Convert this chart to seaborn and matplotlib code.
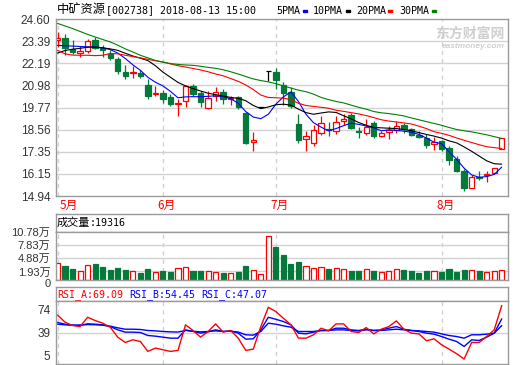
import numpy as np
import matplotlib
matplotlib.use("Agg")
import matplotlib.pyplot as plt
from matplotlib.transforms import ScaledTranslation
import seaborn as sns

sns.set_style("white")
plt.rcParams['font.family'] = ['Liberation Sans', 'Noto Sans CJK SC']

# daily candles, 2018-05 .. 2018-08-13
OPEN = [23.45, 23.54, 22.99, 22.77, 22.84, 23.43, 23.00, 22.69, 22.39, 21.72,
        21.64, 21.66, 21.00, 20.50, 20.56, 20.36, 19.96, 20.15, 20.95, 20.56,
        19.77, 20.39, 20.61, 20.26, 20.36, 19.46, 17.86, 19.82, 21.76, 21.72,
        20.99, 20.63, 18.88, 18.07, 17.84, 18.39, 18.61, 18.48, 19.03, 19.34,
        18.48, 18.39, 18.94, 18.24, 18.46, 18.55, 18.79, 18.57, 18.26, 18.08,
        17.80, 17.93, 17.56, 16.97, 16.28, 15.39, 15.98, 16.06, 16.18, 17.53]
HIGH = [23.87, 23.77, 23.48, 23.10, 23.53, 23.62, 23.17, 22.89, 22.52, 22.08,
        22.01, 21.79, 21.33, 20.92, 20.72, 20.50, 20.26, 21.00, 21.05, 20.65,
        20.65, 20.87, 20.78, 20.41, 20.41, 19.50, 18.41, 19.82, 21.76, 21.92,
        21.14, 20.91, 19.44, 18.48, 18.79, 19.31, 18.98, 19.31, 19.40, 19.49,
        18.70, 19.12, 19.03, 18.48, 18.76, 19.03, 18.94, 18.66, 18.48, 18.30,
        18.15, 18.02, 17.65, 17.10, 16.42, 16.09, 16.33, 16.28, 16.46, 18.10]
LOW = [23.08, 22.62, 22.67, 22.55, 22.76, 22.98, 22.50, 22.36, 21.61, 21.30,
       21.40, 21.38, 20.25, 20.39, 20.02, 19.86, 19.30, 19.78, 20.41, 19.80,
       19.67, 20.13, 19.95, 19.91, 19.67, 17.80, 17.38, 19.82, 21.20, 20.78,
       19.91, 19.77, 17.84, 17.38, 17.69, 18.26, 18.20, 18.35, 18.79, 18.57,
       18.11, 18.26, 18.11, 18.15, 18.06, 18.39, 18.39, 18.20, 18.08, 17.56,
       17.47, 17.38, 16.64, 16.24, 15.23, 15.36, 15.82, 15.69, 16.13, 17.53]
CLOSE = [23.58, 23.02, 22.80, 22.86, 23.39, 23.02, 22.92, 22.45, 21.74, 21.50,
         21.70, 21.48, 20.41, 20.55, 20.23, 19.97, 19.99, 20.92, 20.51, 20.05,
         20.28, 20.59, 20.21, 20.31, 19.79, 17.83, 18.02, 19.82, 21.76, 21.28,
         20.56, 19.86, 18.02, 18.20, 18.52, 18.90, 18.52, 18.99, 19.12, 18.66,
         18.43, 18.72, 18.20, 18.39, 18.52, 18.76, 18.57, 18.26, 18.17, 17.75,
         17.87, 17.51, 16.92, 16.31, 15.39, 16.00, 15.91, 16.13, 16.46, 18.08]

MA5 = [23.16, 23.14, 23.12, 23.10, 23.08, 23.07, 23.02, 22.93, 22.74, 22.45,
       22.10, 21.80, 21.42, 21.15, 20.95, 20.65, 20.30, 20.35, 20.36, 20.36,
       20.38, 20.41, 20.36, 20.25, 20.00, 19.55, 19.25, 19.16, 19.40, 19.95,
       20.35, 20.62, 20.10, 19.40, 18.94, 18.70, 18.50, 18.62, 18.78, 18.92,
       18.85, 18.76, 18.66, 18.50, 18.55, 18.52, 18.48, 18.42, 18.30, 18.10,
       17.88, 17.80, 17.35, 16.95, 16.46, 16.09, 15.96, 16.00, 16.12, 16.52]
MA10 = [22.74, 22.88, 22.95, 23.00, 23.06, 23.07, 23.03, 22.97, 22.89, 22.73,
        22.58, 22.46, 22.33, 22.05, 21.70, 21.42, 21.14, 20.95, 20.80, 20.67,
        20.55, 20.47, 20.40, 20.32, 20.27, 20.14, 19.88, 19.71, 19.80, 19.92,
        19.95, 19.90, 19.68, 19.49, 19.40, 19.47, 19.53, 19.50, 19.32, 19.15,
        18.95, 18.80, 18.68, 18.66, 18.64, 18.62, 18.57, 18.50, 18.40, 18.30,
        18.21, 18.10, 17.95, 17.84, 17.62, 17.38, 17.12, 16.86, 16.70, 16.68]
MA20 = [22.89, 22.70, 22.63, 22.62, 22.62, 22.60, 22.62, 22.72, 22.70, 22.62,
        22.55, 22.48, 22.40, 22.32, 22.26, 22.15, 22.05, 21.98, 21.90, 21.82,
        21.72, 21.60, 21.50, 21.35, 21.20, 21.00, 20.75, 20.45, 20.32, 20.30,
        20.28, 20.20, 20.00, 19.88, 19.83, 19.78, 19.73, 19.62, 19.56, 19.49,
        19.42, 19.33, 19.22, 19.10, 19.03, 18.98, 18.93, 18.87, 18.75, 18.62,
        18.45, 18.36, 18.25, 18.11, 17.98, 17.86, 17.74, 17.63, 17.58, 17.53]
MA30 = [24.36, 24.22, 24.08, 23.92, 23.76, 23.62, 23.48, 23.35, 23.17, 22.97,
        22.80, 22.62, 22.48, 22.34, 22.24, 22.17, 22.12, 22.09, 22.07, 22.02,
        21.96, 21.91, 21.83, 21.72, 21.60, 21.46, 21.33, 21.24, 21.17, 21.07,
        20.95, 20.83, 20.72, 20.63, 20.50, 20.32, 20.20, 20.10, 20.02, 19.90,
        19.78, 19.68, 19.55, 19.48, 19.44, 19.38, 19.31, 19.20, 19.10, 19.00,
        18.90, 18.80, 18.68, 18.57, 18.50, 18.44, 18.36, 18.28, 18.18, 18.08]

# volume, in 10k lots
VOLUME = [3.80, 3.19, 2.50, 2.05, 3.34, 3.64, 2.96, 2.28, 2.73, 2.28,
          2.05, 1.59, 2.50, 1.82, 2.13, 1.90, 2.66, 2.88, 2.13, 2.13,
          2.05, 1.90, 1.67, 1.67, 1.90, 3.19, 2.28, 1.37, 9.80, 7.36,
          5.69, 3.64, 3.95, 3.11, 2.66, 2.88, 2.50, 2.66, 2.43, 2.13,
          2.13, 2.43, 2.13, 1.75, 2.05, 2.43, 2.28, 2.05, 1.59, 2.05,
          2.05, 1.82, 2.50, 1.82, 2.28, 2.28, 2.05, 1.75, 2.05, 2.30]

RSI_A = [58.7, 50.8, 47.1, 46.0, 56.2, 52.6, 49.7, 45.3, 34.4, 28.6,
         31.5, 29.7, 18.8, 22.4, 20.6, 18.8, 19.9, 47.9, 41.7, 34.4,
         40.6, 48.9, 39.9, 41.7, 33.3, 19.9, 21.3, 46.0, 67.1, 62.4,
         55.1, 47.9, 33.3, 33.3, 37.0, 44.2, 41.3, 48.9, 48.9, 40.6,
         39.5, 44.9, 38.0, 43.1, 46.0, 52.2, 43.1, 38.8, 38.0, 30.4,
         32.6, 26.1, 21.3, 16.3, 10.4, 28.6, 28.6, 35.1, 42.4, 69.09]
RSI_B = [50.5, 48.6, 47.5, 47.5, 49.0, 48.6, 47.9, 46.0, 42.4, 39.9,
         39.9, 39.5, 36.2, 35.5, 34.4, 33.3, 33.3, 42.4, 40.6, 38.8,
         40.2, 42.4, 40.6, 41.3, 38.8, 32.2, 32.6, 42.4, 56.2, 54.0,
         51.5, 47.9, 38.8, 38.0, 39.9, 41.7, 41.7, 44.2, 44.2, 42.4,
         41.7, 43.1, 41.7, 42.4, 44.2, 46.0, 43.1, 41.7, 40.6, 38.8,
         37.7, 35.1, 32.2, 29.7, 24.2, 31.5, 30.8, 34.4, 38.8, 54.45]
RSI_C = [48.6, 47.9, 47.5, 47.5, 48.2, 48.0, 47.5, 46.4, 44.6, 43.1,
         43.1, 42.8, 41.7, 41.3, 40.6, 40.2, 40.0, 41.7, 40.9, 40.2,
         40.6, 41.3, 40.6, 40.9, 40.0, 37.0, 36.6, 40.6, 49.7, 48.6,
         46.8, 45.3, 40.6, 40.6, 40.6, 41.7, 41.7, 42.4, 42.4, 41.7,
         41.3, 42.4, 41.7, 41.7, 42.4, 43.1, 42.4, 41.7, 41.3, 40.6,
         39.9, 38.0, 36.2, 35.1, 33.3, 37.0, 37.0, 37.7, 38.8, 47.07]

PRICE_TICKS = [14.94, 16.15, 17.35, 18.56, 19.77, 20.98, 22.19, 23.39, 24.60]
VOL_TICKS = [0, 1.93, 4.88, 7.83, 10.78]
VOL_LABELS = ['0', '1.93万', '4.88万', '7.83万', '10.78万']
RSI_TICKS = [5, 39, 74]
MONTH_POS = [0, 14, 29, 51]
MONTH_LABELS = ['5月', '6月', '7月', '8月']

RED = '#ff0000'
GREEN = '#047a3a'
BLUE = '#0000ff'
FRAME = '#9a9a9a'
GRID = '#d2d2d2'
TXT = '#333333'
MONO = 'DejaVu Sans Mono'
CJK = 'Noto Sans CJK SC'

W, H = 520, 365


def box(l, t, r, b):
    return [l / W, 1 - b / H, (r - l) / W, (b - t) / H]


def frame(ax):
    for s in ax.spines.values():
        s.set_color(FRAME)
        s.set_linewidth(1.0)
        s.set_visible(True)


o = np.array(OPEN); h = np.array(HIGH); lo = np.array(LOW); c = np.array(CLOSE)
x = np.arange(len(c))
xlim = (-0.2, 59.83)

fig = plt.figure(figsize=(W / 100, H / 100), dpi=100)
fig.patch.set_facecolor('white')

# ---- price panel
ax = fig.add_axes(box(56, 19, 508, 196))
frame(ax)
ax.set_xlim(*xlim)
ax.set_ylim(PRICE_TICKS[0], PRICE_TICKS[-1])
ax.set_yticks(PRICE_TICKS)
ax.set_yticklabels([f'{t:.2f}' for t in PRICE_TICKS], fontsize=8.5, color=TXT)
ax.set_xticks([])
ax.tick_params(axis='y', length=0, pad=4)
for t in PRICE_TICKS[1:-1]:
    ax.axhline(t, color=GRID, lw=1.0, zorder=0)
for m in MONTH_POS:
    ax.axvline(m, color=GRID, lw=1.0, ls=(0, (3, 3)), zorder=0)

up = c > o
dn = c < o
fl = c == o
blo = np.minimum(o, c); bhi = np.maximum(o, c)
bw = 0.72
ax.vlines(x[up], lo[up], blo[up], color=RED, lw=0.9, zorder=2)
ax.vlines(x[up], bhi[up], h[up], color=RED, lw=0.9, zorder=2)
ax.bar(x[up], (bhi - blo)[up], bottom=blo[up], width=bw, facecolor='white',
       edgecolor=RED, lw=0.9, zorder=2)
ax.vlines(x[dn], lo[dn], h[dn], color=GREEN, lw=0.9, zorder=2)
ax.bar(x[dn], (bhi - blo)[dn], bottom=blo[dn], width=bw, facecolor=GREEN,
       edgecolor=GREEN, lw=0.9, zorder=2)
ax.vlines(x[fl], lo[fl], h[fl], color='black', lw=0.9, zorder=2)
ax.hlines(c[fl], x[fl] - bw / 2, x[fl] + bw / 2, color='black', lw=0.9, zorder=2)

for vals, col in [(MA5, BLUE), (MA10, 'black'), (MA20, RED), (MA30, '#008000')]:
    sns.lineplot(x=x, y=vals, ax=ax, color=col, lw=0.8, zorder=3)
ax.set_ylabel('')

for m, lab in zip(MONTH_POS, MONTH_LABELS):
    if m == 0:
        tr = ax.get_xaxis_transform() + ScaledTranslation(0.02, -0.09, fig.dpi_scale_trans)
        ax.text(m, 0, lab, transform=tr, ha='left', va='center', color=RED,
                fontsize=8.5, family=CJK)
    else:
        tr = ax.get_xaxis_transform() + ScaledTranslation(0.04, -0.09, fig.dpi_scale_trans)
        ax.text(m, 0, lab, transform=tr, ha='center', va='center', color=RED,
                fontsize=8.5, family=CJK)

# watermark
ax.text(0.992, 0.915, '东方财富网', transform=ax.transAxes, ha='right', va='center',
        fontsize=10, color='#cfcfcf', family=CJK, fontweight='bold')
ax.text(0.992, 0.845, 'eastmoney.com', transform=ax.transAxes, ha='right', va='center',
        fontsize=6, color='#cfcfcf', style='italic', fontweight='bold')

# title and legend
fig.text(57 / W, 1 - 10 / H, '中矿资源', ha='left', va='center', fontsize=8.8,
         family=CJK, color='black')
fig.text(106 / W, 1 - 10 / H, '[002738] 2018-08-13 15:00', ha='left', va='center',
         fontsize=7.2, family=MONO, color='black')
leg = [('5PMA', BLUE, 276, 303), ('10PMA', 'black', 313, 346),
       ('20PMA', RED, 356, 388), ('30PMA', '#008000', 399, 432)]
for name, col, tx, dx in leg:
    fig.text(tx / W, 1 - 11 / H, name, ha='left', va='center', fontsize=7.2,
             family=MONO, color='black')
    fig.patches.append(plt.Rectangle((dx / W, 1 - 12 / H), 4 / W, 2 / H,
                                     transform=fig.transFigure, color=col))

# ---- volume panel
axh = fig.add_axes(box(56, 214, 508, 232))
frame(axh)
axh.set_xticks([]); axh.set_yticks([])
axh.text(1 / 452, 0.5, '成交量', transform=axh.transAxes, ha='left', va='center',
         fontsize=8, family=CJK, color='black')
axh.text(34 / 452, 0.5, ':19316', transform=axh.transAxes, ha='left', va='center',
         fontsize=7.2, family=MONO, color='black')

axv = fig.add_axes(box(56, 232, 508, 280))
frame(axv)
axv.set_xlim(*xlim)
axv.set_ylim(0, VOL_TICKS[-1])
axv.set_yticks(VOL_TICKS)
axv.set_yticklabels(VOL_LABELS, fontsize=8, color=TXT)
axv.set_xticks([])
axv.tick_params(axis='y', length=0, pad=4)
zero_lab = axv.get_yticklabels()[0]
zero_lab.set_transform(zero_lab.get_transform() + ScaledTranslation(0, -0.03, fig.dpi_scale_trans))
for t in VOL_TICKS[1:-1]:
    axv.axhline(t, color=GRID, lw=1.0, zorder=0)
for m in MONTH_POS:
    axv.axvline(m, color=GRID, lw=1.0, ls=(0, (3, 3)), zorder=0)
vol = np.array(VOLUME)
vup = c >= o
axv.bar(x[vup], vol[vup], width=0.68, facecolor='white', edgecolor=RED, lw=0.9, zorder=2)
axv.bar(x[~vup], vol[~vup], width=0.68, facecolor=GREEN, edgecolor=GREEN, lw=0.9, zorder=2)

# ---- RSI panel
axr_h = fig.add_axes(box(56, 287, 508, 301))
frame(axr_h)
axr_h.set_xticks([]); axr_h.set_yticks([])
for txt, col, px in [('RSI_A:69.09', RED, 1), ('RSI_B:54.45', BLUE, 73),
                     ('RSI_C:47.07', BLUE, 145)]:
    axr_h.text(px / 452, 0.45, txt, transform=axr_h.transAxes, ha='left', va='center',
               fontsize=7.2, family=MONO, color=col)

axr = fig.add_axes(box(56, 301, 508, 364))
frame(axr)
axr.set_xlim(*xlim)
axr.set_ylim(5, 74)
axr.set_yticks(RSI_TICKS)
axr.set_yticklabels([str(t) for t in RSI_TICKS], fontsize=8.5, color=TXT)
axr.set_xticks([])
axr.tick_params(axis='y', length=0, pad=4)
shifts = {74: -0.09, 39: 0.0, 5: 0.08}
for t, lab in zip(RSI_TICKS, axr.get_yticklabels()):
    lab.set_transform(lab.get_transform() + ScaledTranslation(0, shifts[t], fig.dpi_scale_trans))
axr.axhline(39, color=GRID, lw=1.0, zorder=0)
for m in MONTH_POS:
    axr.axvline(m, color=GRID, lw=1.0, ls=(0, (3, 3)), zorder=0)
sns.lineplot(x=x, y=RSI_C, ax=axr, color=BLUE, lw=1.0)
sns.lineplot(x=x, y=RSI_B, ax=axr, color=BLUE, lw=1.0)
sns.lineplot(x=x, y=RSI_A, ax=axr, color=RED, lw=1.0)
axr.set_ylabel('')

fig.savefig('out.png', dpi=100, facecolor='white')
